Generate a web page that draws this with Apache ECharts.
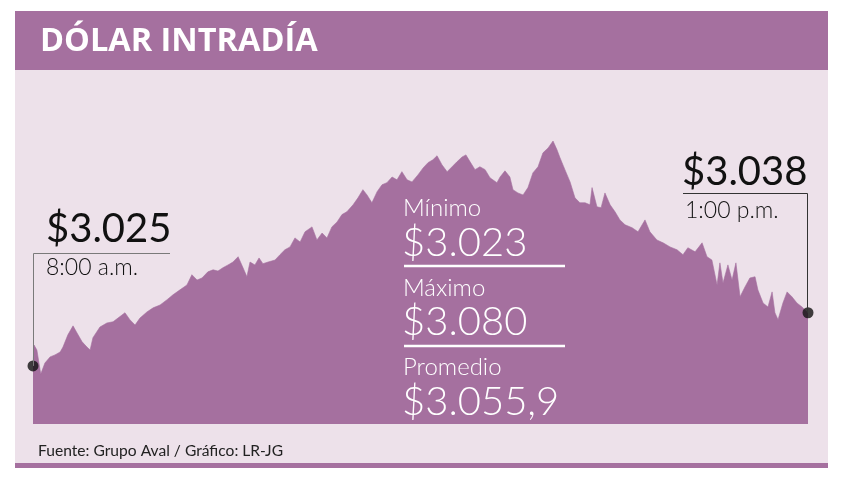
<!DOCTYPE html>
<html><head><meta charset="utf-8">
<script src="https://cdn.jsdelivr.net/npm/echarts@6/dist/echarts.min.js"></script>
<style>html,body{margin:0;padding:0;background:#fff}#c{width:851px;height:487px}</style>
</head><body><div id="c"></div>
<script>
// minutes after 8:00 a.m.
var minutes = [0,0.4,1.5,3.0,4.6,6.6,8.5,10.5,11.6,13.5,15.5,17.0,19.0,20.9,22.1,23.2,25.9,28.6,31.0,32.9,35.6,37.5,39.5,41.4,44.1,46.5,49.2,51.9,54.2,56.9,59.6,
61.5,63.5,65.4,67.7,69.7,71.6,73.5,75.5,77.4,79.4,81.3,82.8,84.0,85.9,87.5,89.0,91.0,93.7,95.6,97.5,99.5,101.4,103.4,105.3,108.0,109.9,111.9,113.8,115.7,117.7,119.6,
121.5,123.9,125.8,127.7,129.3,131.2,133.2,135.1,137.0,139.0,140.9,142.8,144.8,146.7,149.0,151.0,152.9,154.8,156.4,158.3,160.3,162.2,164.1,166.1,167.6,169.2,171.1,173.0,175.0,176.9,179.6,
180.8,182.7,184.6,185.8,187.7,189.7,191.6,193.5,195.5,197.4,199.4,201.3,202.8,204.0,205.9,207.9,209.8,211.7,213.7,215.6,216.4,218.3,219.9,221.4,223.4,225.3,227.2,229.2,231.9,234.2,236.9,238.8,
241.5,243.9,246.6,249.3,251.6,253.5,256.3,259.0,260.9,262.8,264.8,265.9,267.1,269.0,270.6,272.1,273.7,275.6,277.5,279.5,280.6,282.6,284.5,286.1,287.2,288.4,290.3,291.9,293.8,295.7,297.7,300];
var prices = [3025.0,3030.1,3028.9,3023.0,3025.7,3027.2,3027.7,3028.4,3029.6,3032.6,3034.8,3033.1,3030.9,3029.6,3028.9,3031.9,3034.5,3035.5,3035.8,3036.7,3038.0,3036.3,3035.0,3036.7,3038.2,3039.2,3039.9,3041.2,3042.4,3043.6,3044.8,
3047.3,3046.0,3046.5,3048.0,3048.5,3048.2,3049.0,3049.7,3050.4,3051.7,3049.0,3046.8,3050.4,3049.7,3051.4,3050.0,3050.4,3050.9,3052.2,3053.4,3054.1,3056.3,3055.3,3057.8,3059.0,3055.8,3057.5,3056.3,3059.0,3060.2,3062.0,
3062.7,3064.4,3066.1,3068.1,3066.8,3064.9,3067.6,3069.3,3069.8,3071.2,3070.5,3072.5,3070.5,3070.0,3071.7,3073.4,3074.7,3075.4,3076.4,3074.2,3072.5,3073.7,3074.9,3076.1,3076.6,3074.9,3073.0,3073.7,3073.0,3071.0,3069.8,
3071.2,3072.7,3071.2,3068.1,3067.3,3066.8,3068.6,3072.2,3073.7,3077.1,3078.3,3080.0,3077.9,3075.9,3073.0,3070.0,3066.1,3064.9,3064.9,3064.4,3068.6,3063.9,3063.7,3067.3,3064.4,3062.7,3060.7,3059.5,3058.8,3057.8,3060.7,3057.8,
3055.8,3055.1,3054.1,3053.4,3052.2,3053.9,3052.9,3055.1,3051.7,3050.9,3044.8,3050.2,3045.3,3049.7,3046.0,3050.2,3041.9,3044.3,3046.5,3046.8,3043.6,3040.4,3039.4,3043.1,3038.0,3036.3,3040.4,3043.1,3041.9,3040.4,3039.4,3038.0];
var title = 'DÓLAR INTRADÍA';
var openLabel = ['$3.025', '8:00 a.m.'];
var closeLabel = ['$3.038', '1:00 p.m.'];
var statLabels = ['Mínimo', 'Máximo', 'Promedio'];
var statValues = ['$3.023', '$3.080', '$3.055,9'];
var source = 'Fuente: Grupo Aval / Gráfico: LR-JG';

var PURPLE = '#a5709f', BG = '#ede1ea';
var FONT = 'Lato, "Open Sans", sans-serif';
var series = minutes.map(function(m,i){return [m, prices[i]];});
var chart = echarts.init(document.getElementById('c'), null, {renderer:'canvas'});

function txt(x, y, s, size, color, weight, family){
  return {type:'text', z:100, x:x, y:y, style:{text:s, font:(weight||'normal')+' '+size+'px '+(family||FONT), fill:color, verticalAlign:'middle', align:'left'}};
}
var option = {
  animation:false,
  backgroundColor:'#ffffff',
  grid:{left:33, right:43, top:141, bottom:63},
  xAxis:{type:'value', min:0, max:300, show:false},
  yAxis:{type:'value', min:3010.8, max:3080, show:false},
  series:[
    {type:'line', data:series, symbol:'none', smooth:false, lineStyle:{width:0.6, color:PURPLE}, areaStyle:{color:PURPLE, opacity:1}, z:2},
    {type:'scatter', data:[series[0], series[series.length-1]], symbolSize:11, itemStyle:{color:'#111'}, z:10}
  ]
};
chart.setOption(option);
var p0 = chart.convertToPixel({gridIndex:0}, series[0]);
var p1 = chart.convertToPixel({gridIndex:0}, series[series.length-1]);
var g = [
  {type:'rect', z:-10, shape:{x:15, y:70, width:813, height:394}, style:{fill:BG}},
  {type:'rect', z:-5, shape:{x:15, y:11, width:813, height:59}, style:{fill:PURPLE}},
  {type:'rect', z:-5, shape:{x:15, y:463, width:813, height:5}, style:{fill:PURPLE}},
  txt(40, 42, title, 32.5, '#ffffff', 'bold', '"Open Sans", Lato, sans-serif'),
  // open leader
  {type:'polyline', z:50, shape:{points:[[170,253.5],[p0[0]+0.5,253.5],[p0[0]+0.5,p0[1]]]}, style:{stroke:'#7a7a7a', lineWidth:1, fill:null}},
  txt(46, 229, openLabel[0], 40, '#111111'),
  txt(46, 268, openLabel[1], 23, '#111111', '300'),
  // close leader
  {type:'polyline', z:50, shape:{points:[[683,193.5],[p1[0]-0.5,193.5],[p1[0]-0.5,p1[1]]]}, style:{stroke:'#333333', lineWidth:1, fill:null}},
  txt(682, 172, closeLabel[0], 40, '#111111'),
  txt(685, 211, closeLabel[1], 23, '#111111', '300'),
  txt(38, 451, source, 15.6, '#222222')
];
var sy = [208, 288, 367], vy = [243, 322, 402];
for (var i=0;i<3;i++){
  g.push(txt(403, sy[i], statLabels[i], 24, '#ffffff', '300'));
  g.push(txt(402, vy[i], statValues[i], 40, '#ffffff', '300'));
}
g.push({type:'line', z:60, shape:{x1:404, y1:266, x2:565, y2:266}, style:{stroke:'#ffffff', lineWidth:2.5}});
g.push({type:'line', z:60, shape:{x1:404, y1:346, x2:565, y2:346}, style:{stroke:'#ffffff', lineWidth:2.5}});
chart.setOption({graphic:g});
</script></body></html>
